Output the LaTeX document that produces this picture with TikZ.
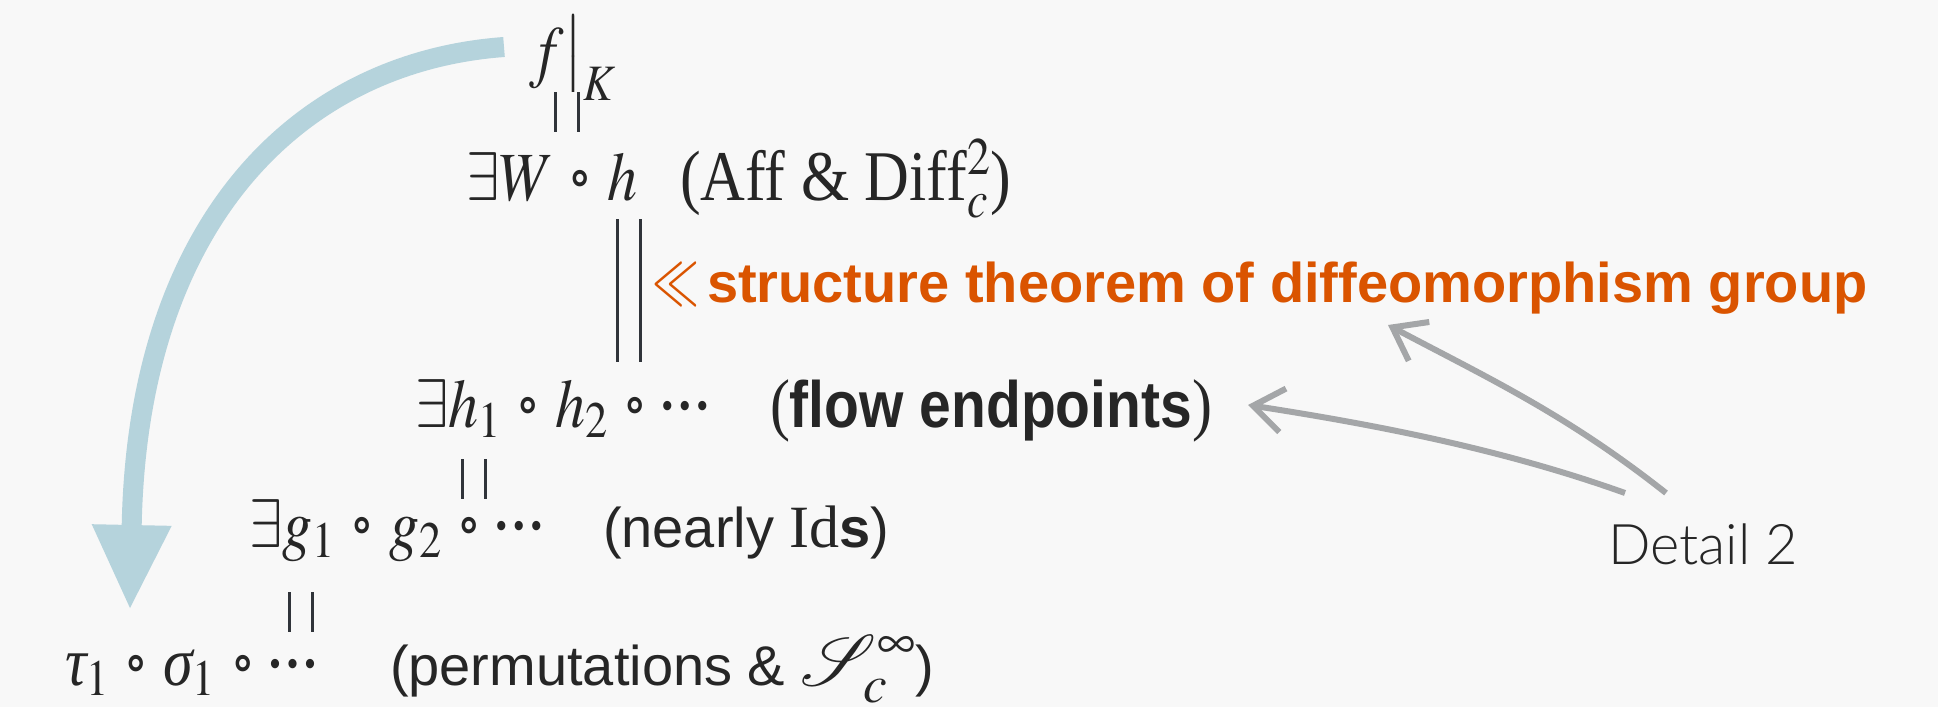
\documentclass[tikz,border=0pt]{standalone}
\usepackage{mathptmx}
\usepackage{fontspec}
\setmainfont{Liberation Serif}
\setsansfont{Liberation Sans}
\newfontfamily\detailfont{Lato}[UprightFont={* Light}]
\newfontfamily\djvb{DejaVu Sans Bold}
\newfontfamily\lsans{Liberation Sans}
\newcommand\cc{\mathbin{\mkern1.5mu\vcenter{\hbox{\djvb\fontsize{44}{44}\selectfont ∘}}\mkern1.5mu}}
\newcommand\dd{\mathinner{\vcenter{\hbox{\lsans\fontsize{30}{30}\selectfont •\kern7pt•\kern7pt•}}}}
\newcommand\gk[1]{\mbox{\itshape #1}}
\usetikzlibrary{arrows.meta}
\definecolor{bg}{HTML}{F8F8F8}
\definecolor{ink}{HTML}{262626}
\definecolor{barc}{HTML}{30343A}
\definecolor{orng}{HTML}{DA5400}
\definecolor{bluec}{HTML}{B5D3DC}
\definecolor{greyc}{HTML}{A4A6A8}
\tikzset{
  lbl/.style={inner sep=0pt, outer sep=0pt, anchor=base west, text=ink},
  serif/.style={lbl, font=\fontsize{60}{66}\selectfont, yscale=1.15},
  sans/.style={lbl, font=\sffamily\fontsize{56}{62}\selectfont},
  boldsans/.style={lbl, font=\sffamily\bfseries\fontsize{56}{62}\selectfont},
  orangetxt/.style={boldsans, text=orng},
  orangesym/.style={lbl, font=\fontsize{60}{66}\selectfont, text=orng, xscale=0.78, yscale=1.2},
  detail/.style={lbl, font=\detailfont\fontsize{56}{60}\selectfont},
  eqbar/.style={draw=barc, line width=3pt, double=bg, double distance=20pt},
  bluearr/.style={draw=bluec, line width=20pt, -{Triangle[length=83pt,width=80pt,line width=0pt]}},
  greyarr/.style={draw=greyc, line width=6pt, -{Straight Barb[length=30pt,width=44pt]}},
}
\begin{document}
\begin{tikzpicture}[x=1pt, y=-1pt]
  \fill[bg] (0,0) rectangle (1938,707);
  \useasboundingbox (0,0) rectangle (1938,707);

  % line 1
  \node[serif] (fK) at (529,74) {$f\big|_K$};
  % line 2
  \node[serif] (Wh) at (466,200) {$\exists W\cc h$};
  \node[serif, font=\fontsize{62}{66}\selectfont] (aff) at (680,200) {(Aff \& Diff$^2_c$)};
  % line 3
  \node[orangesym] (ll) at (652,302) {$\ll$};
  \node[orangetxt] (thm) at (707,302) {structure theorem of diffeomorphism group};
  % line 4
  \node[serif] (hh) at (415,427) {$\exists h_1\cc h_2\cc\dd$};
  \node[serif] (flow) at (770,427) {({\sffamily\bfseries\fontsize{57}{62}\selectfont flow endpoints})};
  % line 5
  \node[serif] (gg) at (249,547) {$\exists g_1\cc g_2\cc\dd$};
  \node[sans] (ids) at (603,547) {(nearly {\rmfamily\fontsize{60}{66}\selectfont Id}\textbf{s})};
  % line 6
  \node[serif] (ts) at (65,685) {$\gk{τ}_1\cc\gk{σ}_1\cc\dd$};
  \node[sans] (perm) at (390,685) {(permutations \& {\fontsize{72}{76}\selectfont$\mathcal{S}^\infty_c$})};
  % Detail 2
  \node[detail] (det) at (1608,564) {Detail 2};

  % equality bars
  \coordinate (e1t) at (566.5,92);  \coordinate (e1b) at (566.5,132);
  \coordinate (e2t) at (628.5,219); \coordinate (e2b) at (628.5,362);
  \coordinate (e3t) at (474,459);   \coordinate (e3b) at (474,499);
  \coordinate (e4t) at (301,592);   \coordinate (e4b) at (301,632);
  \draw[eqbar] (e1t) -- (e1b);
  \draw[eqbar] (e2t) -- (e2b);
  \draw[eqbar] (e3t) -- (e3b);
  \draw[eqbar] (e4t) -- (e4b);

  % blue arrow
  \coordinate (bs) at (504,47);
  \coordinate (be) at (130,608);
  \draw[bluearr] (bs) .. controls (300,62) and (138,220) .. (be);

  % grey arrows
  \coordinate (g1s) at (1625,493);
  \coordinate (g1t) at (1248,405);
  \coordinate (g2s) at (1666,493);
  \coordinate (g2t) at (1388,325);
  \draw[greyarr] (g1s) .. controls (1505,450) and (1378,425) .. (g1t);
  \draw[greyarr] (g2s) .. controls (1566,414) and (1488,378) .. (g2t);
\end{tikzpicture}
\end{document}
